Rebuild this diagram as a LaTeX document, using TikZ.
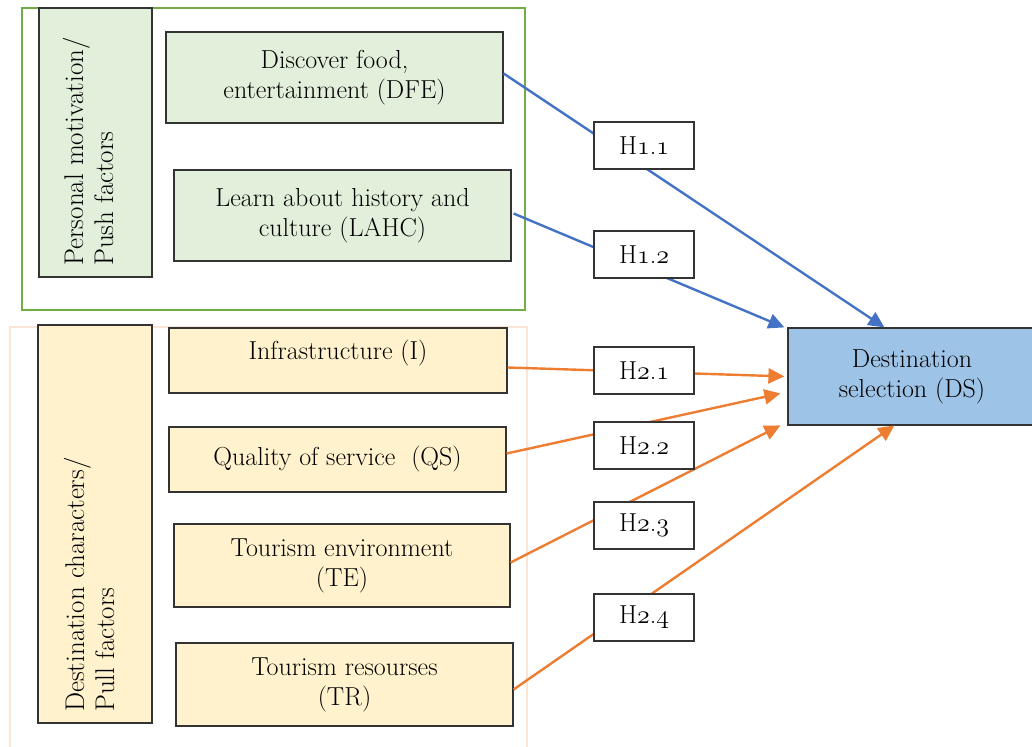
\RequirePackage{fix-cm}
\documentclass[tikz,border=0pt]{standalone}
\usepackage{fontspec}
\usetikzlibrary{arrows.meta,calc}
\definecolor{pushfill}{HTML}{E2EFDA}
\definecolor{pullfill}{HTML}{FFF2CC}
\definecolor{dsfill}{HTML}{9DC3E6}
\definecolor{frgreen}{HTML}{70AD47}
\definecolor{frpeach}{HTML}{FBE5D6}
\definecolor{lblue}{HTML}{4472C4}
\definecolor{lorange}{HTML}{ED7D31}
\newcommand{\osn}[1]{{\usefont{OML}{cmm}{m}{it}#1}}
\tikzset{
  x=1pt, y=-1pt,
  box/.style={draw=black!80, line width=1.2pt, align=center, inner sep=0pt,
    font=\fontsize{26}{30}\selectfont},
  pushbox/.style={box, fill=pushfill},
  pullbox/.style={box, fill=pullfill},
  hbox/.style={box, fill=white, minimum width=100pt, minimum height=47pt},
  conn/.style={line width=2.4pt},
  bl/.style={conn, draw=lblue},
  og/.style={conn, draw=lorange},
  tip/.style={-{Triangle[length=16pt,width=15pt]}},
  vlabel/.style={rotate=90, anchor=west, align=left, inner sep=0pt,
    font=\fontsize{27}{30}\selectfont}
}
\begin{document}
\begin{tikzpicture}
\useasboundingbox (0,0) rectangle (1032,746);
% frames
\draw[frgreen, line width=2.5pt] (22,8) rectangle (525,310);
\draw[frpeach, line width=2.5pt] (10,760) -- (10,327) -- (527,327) -- (527,760);
% group label boxes
\node[pushbox, minimum width=113pt, minimum height=269pt] (push) at (95.5,142.5) {};
\node[vlabel] (pushlbl) at (88,266) {Personal motivation/\\Push factors};
\node[pullbox, minimum width=114pt, minimum height=398pt] (pull) at (95,524) {};
\node[vlabel] (pulllbl) at (89,712) {Destination characters/\\Pull factors};
% factor boxes
\node[pushbox, minimum width=337pt, minimum height=91pt] (DFE) at (334.5,77.5) {Discover food,\\entertainment (DFE)};
\node[pushbox, minimum width=337pt, minimum height=91pt] (LAHC) at (342.5,215.5) {Learn about history and\\culture (LAHC)};
\node[pullbox, minimum width=338pt, minimum height=65pt] (I) at (338,360.5) {\raisebox{22pt}{Infrastructure (I)}};
\node[pullbox, minimum width=337pt, minimum height=65pt] (QS) at (337.5,459.5) {Quality of service\ \ (QS)};
\node[pullbox, minimum width=336pt, minimum height=83pt] (TE) at (342,565.5) {Tourism environment\\(TE)};
\node[pullbox, minimum width=337pt, minimum height=83pt] (TR) at (344.5,684.5) {Tourism resourses\\(TR)};
% target
\node[box, fill=dsfill, minimum width=248pt, minimum height=97pt] (DS) at (912,376.5) {Destination\\selection (DS)};
% connectors
\coordinate (dsA) at ($(DS.north west)+(97,0)$);
\coordinate (dsB) at ($(DS.north west)+(-3,0)$);
\coordinate (dsC) at ($(DS.north west)+(-3,49)$);
\coordinate (dsD) at ($(DS.north west)+(-7,66)$);
\coordinate (dsE) at ($(DS.north west)+(-7,98)$);
\coordinate (dsF) at ($(DS.north west)+(107,98)$);
\draw[bl, tip] ($(DFE.east)+(0,-4)$) -- (dsA);
\draw[bl, tip] ($(LAHC.east)+(2,-2)$) -- (dsB);
\draw[og, tip] ($(I.east)+(0,7)$) -- (dsC);
\draw[og, tip] ($(QS.east)+(0,-6)$) -- (dsD);
\draw[og, tip] ($(TE.east)+(0,-3)$) -- (dsE);
\draw[og, tip] ($(TR.east)+(0,5)$) -- (dsF);
% hypothesis boxes
\node[hbox] (H11) at (644,145.5) {H\osn{1}.\osn{1}};
\node[hbox] (H12) at (644,254.5) {H\osn{1}.\osn{2}};
\node[hbox] (H21) at (644,370.5) {H\osn{2}.\osn{1}};
\node[hbox] (H22) at (644,445.5) {H\osn{2}.\osn{2}};
\node[hbox] (H23) at (644,525.5) {H\osn{2}.\osn{3}};
\node[hbox] (H24) at (644,617.5) {H\osn{2}.\osn{4}};
\end{tikzpicture}
\end{document}
